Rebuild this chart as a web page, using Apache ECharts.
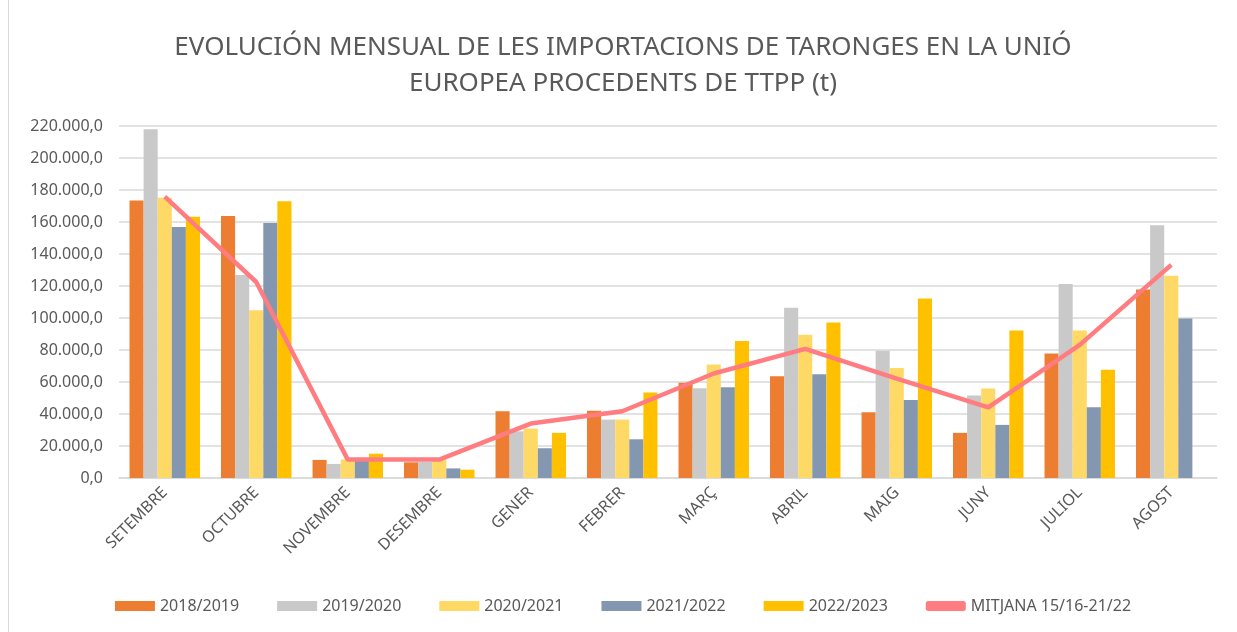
<!DOCTYPE html>
<html>
<head>
<meta charset="utf-8">
<script src="https://cdn.jsdelivr.net/npm/echarts@6/dist/echarts.min.js"></script>
<style>
  html, body { margin: 0; padding: 0; background: #fff; }
  #chart { position: absolute; left: 8px; top: 0; width: 1229px; height: 632px; border-left: 1px solid #d9d9d9; box-sizing: border-box; }
</style>
</head>
<body>
<div id="chart"></div>
<script>
// months (x axis)
const months = ['SETEMBRE', 'OCTUBRE', 'NOVEMBRE', 'DESEMBRE', 'GENER', 'FEBRER', 'MARÇ', 'ABRIL', 'MAIG', 'JUNY', 'JULIOL', 'AGOST'];

// campaign values in tonnes
const s2018 = [173500, 163700, 11300, 9800, 41700, 42100, 59600, 63600, 41100, 28200, 77800, 117800];
const s2019 = [218000, 126800, 8800, 10000, 29200, 36500, 56100, 106400, 79500, 51500, 121200, 157900];
const s2020 = [175200, 104900, 11500, 11500, 30900, 36500, 70900, 89500, 68800, 55900, 92200, 126400];
const s2021 = [156800, 159300, 11000, 6000, 18600, 24200, 56700, 64900, 48800, 33200, 44200, 99700];
const s2022 = [163300, 172900, 15200, 5200, 28200, 53400, 85700, 97200, 112200, 92200, 67600, null];
const mitjana = [175800, 122500, 11500, 11500, 34000, 41700, 65300, 80700, 62100, 44200, 83200, 133200];

const seriesNames = ['2018/2019', '2019/2020', '2020/2021', '2021/2022', '2022/2023', 'MITJANA 15/16-21/22'];
const colors = ['#ED7D31', '#C9C9C9', '#FFD966', '#8497B0', '#FFC000', '#FF7C80'];

const chart = echarts.init(document.getElementById('chart'));

// format as 220.000,0
const fmt = (v) => v.toLocaleString('de-DE', { minimumFractionDigits: 1, maximumFractionDigits: 1 });

const barSeries = [s2018, s2019, s2020, s2021, s2022].map((d, i) => ({
  name: seriesNames[i],
  type: 'bar',
  data: d,
  barGap: '0%',
  barCategoryGap: '23%',
  itemStyle: { color: colors[i] }
}));

chart.setOption({
  animation: false,
  textStyle: { fontFamily: 'Noto Sans' },
  title: {
    text: 'EVOLUCIÓN MENSUAL DE LES IMPORTACIONS DE TARONGES EN LA UNIÓ\nEUROPEA PROCEDENTS DE TTPP (t)',
    left: 'center',
    top: 25,
    textStyle: { fontSize: 26, fontWeight: 'normal', color: '#595959', lineHeight: 36, fontFamily: 'Noto Sans' }
  },
  legend: {
    bottom: 13,
    left: 'center',
    itemGap: 38,
    itemWidth: 40,
    itemHeight: 10,
    textStyle: { fontSize: 16, color: '#595959' },
    data: seriesNames.slice(0, 5).map(n => ({ name: n, icon: 'rect' })).concat([{ name: seriesNames[5], icon: 'roundRect', itemStyle: { color: colors[5] } }])
  },
  grid: { left: 110, right: 20, top: 126, bottom: 154 },
  xAxis: {
    type: 'category',
    data: months,
    axisTick: { show: false },
    axisLine: { lineStyle: { color: '#d9d9d9', width: 1.5 } },
    axisLabel: { rotate: 45, color: '#595959', fontSize: 16, margin: 12 }
  },
  yAxis: {
    type: 'value',
    min: 0,
    max: 220000,
    interval: 20000,
    axisLabel: { formatter: fmt, color: '#595959', fontSize: 16, margin: 16 },
    splitLine: { lineStyle: { color: '#d9d9d9', width: 1.5 } }
  },
  series: barSeries.concat([{
    name: seriesNames[5],
    type: 'line',
    data: mitjana,
    symbol: 'none',
    lineStyle: { color: colors[5], width: 4.5 },
    itemStyle: { color: colors[5] },
    z: 5
  }])
});
</script>
</body>
</html>
